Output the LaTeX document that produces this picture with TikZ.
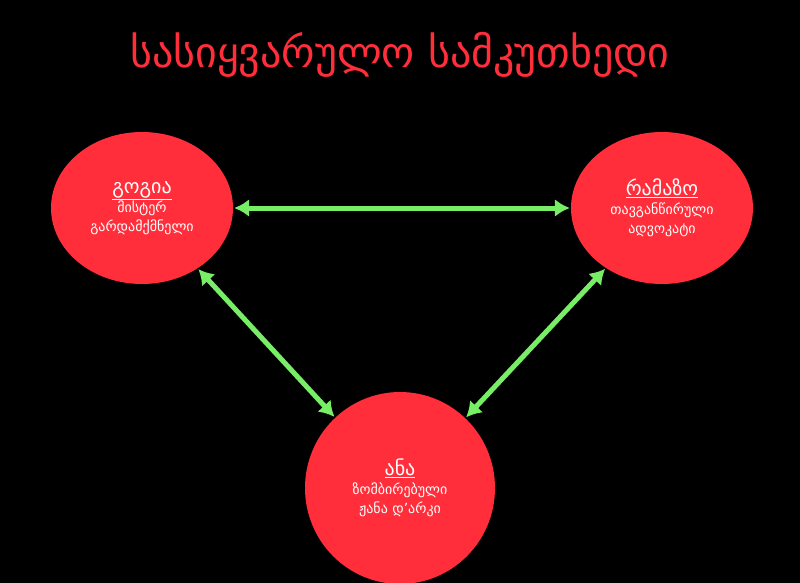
\documentclass[tikz,border=0pt]{standalone}
\usepackage{fontspec}
\setmainfont{DejaVu Sans}
\usetikzlibrary{arrows.meta,shapes.geometric}
\definecolor{nodered}{HTML}{FF2E3A}
\definecolor{arrgreen}{HTML}{77EE66}
\begin{document}
\begin{tikzpicture}[x=1pt,y=-1pt,
  person/.style={ellipse,fill=nodered,inner sep=0pt,text=white,align=center,font=\fontsize{14}{19}\selectfont},
  link/.style={draw=arrgreen,line width=5pt,{Latex[length=15pt,width=18pt]}-{Latex[length=15pt,width=18pt]},shorten <=1pt,shorten >=1pt}]
\fill[black] (0,0) rectangle (800,583);
\useasboundingbox (0,0) rectangle (800,583);
\node[text=nodered,font=\fontsize{42}{48}\selectfont] (title) at (400,55) {სასიყვარულო სამკუთხედი};
\node[person,minimum width=182pt,minimum height=152pt] (g) at (142,208) {\fontsize{20}{24}\selectfont\underline{გოგია}\\მისტერ\\გარდამქმნელი};
\node[person,minimum width=182pt,minimum height=152pt] (r) at (662,208) {\fontsize{20}{24}\selectfont\underline{რამაზო}\\თავგანწირული\\ადვოკატი};
\node[person,minimum width=190pt,minimum height=192pt] (a) at (400,488) {\fontsize{20}{24}\selectfont\underline{ანა}\\ზომბირებული\\ჟანა დ'არკი};
\draw[link] (g) -- (r);
\draw[link] (g) -- (a);
\draw[link] (r) -- (a);
\end{tikzpicture}
\end{document}
